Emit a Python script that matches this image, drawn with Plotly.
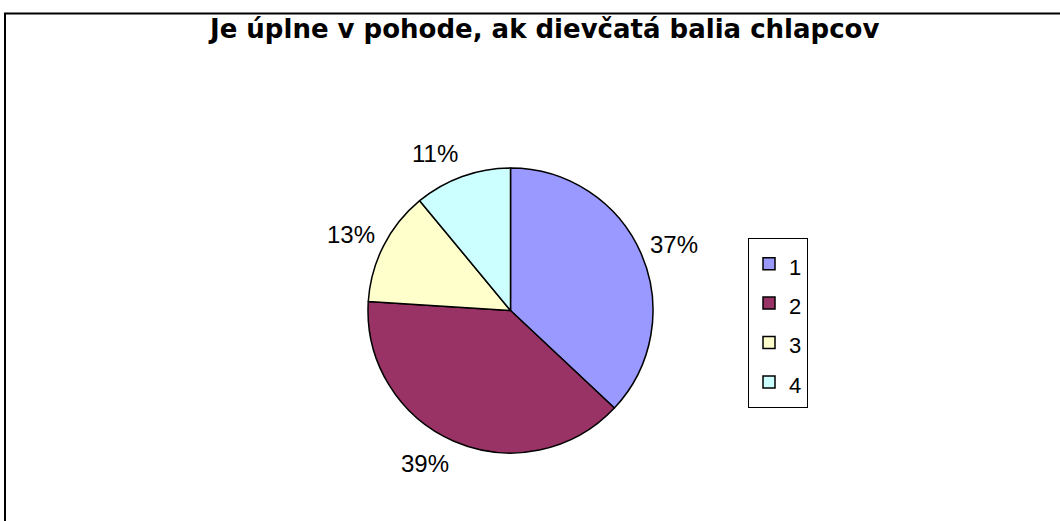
import math
import plotly.graph_objects as go

W, H = 1060, 521
title = "Je úplne v pohode, ak dievčatá balia chlapcov"
labels = ["1", "2", "3", "4"]
values = [37, 39, 13, 11]
colors = ["#9999FF", "#993366", "#FFFFCC", "#CCFFFF"]

# pie geometry in pixels
cx, cy, r = 510.5, 310.5, 142.5
font = "Liberation Sans, Arial, sans-serif"

fig = go.Figure(go.Pie(
    labels=[f"<span style='font-size:22px'>{l}</span>" for l in labels],
    values=values, sort=False, direction="clockwise", rotation=0,
    customdata=labels,
    hovertemplate="%{customdata}: %{percent}<extra></extra>",
    marker=dict(colors=colors, line=dict(color="black", width=1.5)),
    textinfo="none",
    domain=dict(x=[(cx - r) / W, (cx + r) / W], y=[1 - (cy + r) / H, 1 - (cy - r) / H]),
))

# percentage labels, placed outside each slice from the values
total = sum(values)
annotations = []
cum = 0
RX, RY = 150, 167
for v in values:
    mid = (cum + v / 2) / total * 2 * math.pi
    cum += v
    s, c = math.sin(mid), math.cos(mid)
    px, py = cx + RX * s, cy - RY * c
    annotations.append(dict(
        x=px / W, y=1 - py / H, xref="paper", yref="paper", showarrow=False,
        text=f"{round(v / total * 100)}%",
        xanchor="left" if s >= 0 else "right",
        yanchor="middle",
        font=dict(family=font, size=24, color="black"),
    ))

annotations.append(dict(
    x=543 / W, y=1 - 29 / H, xref="paper", yref="paper", showarrow=False,
    text=f"<b>{title}</b>", xanchor="center", yanchor="middle",
    font=dict(family="DejaVu Sans, sans-serif", size=26, color="black"),
))

fig.update_layout(
    width=W, height=H, margin=dict(l=0, r=0, t=0, b=0),
    paper_bgcolor="white", plot_bgcolor="white",
    annotations=annotations,
    showlegend=True,
    legend=dict(
        x=748 / W, y=1 - 238 / H, xanchor="left", yanchor="top",
        bordercolor="black", borderwidth=1, bgcolor="white",
        font=dict(family=font, size=28, color="black"),
    ),
    shapes=[dict(type="rect", xref="paper", yref="paper",
                 x0=5 / W, y0=-0.02, x1=1.02, y1=1 - 13.5 / H,
                 line=dict(color="black", width=2))],
)

fig.write_html("out.html", config={"displayModeBar": False},
               post_script="document.body.style.margin='0';")
